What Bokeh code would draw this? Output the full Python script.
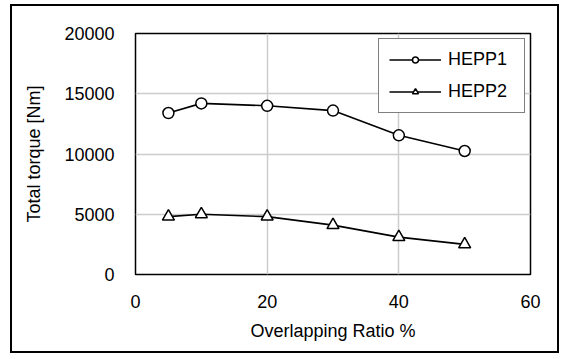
from bokeh.plotting import figure
from bokeh.models import Legend, LegendItem, FixedTicker, Range1d
from bokeh.embed import file_html
from bokeh.resources import INLINE

# Overlapping ratio (%) and total torque (Nm) for the two designs
ratio = [5, 10, 20, 30, 40, 50]
hepp1_torque = [13400, 14200, 14000, 13600, 11550, 10250]
hepp2_torque = [4800, 5000, 4800, 4100, 3100, 2500]

x_ticks = [0, 20, 40, 60]
y_ticks = [0, 5000, 10000, 15000, 20000]

FONT = "Liberation Sans"

p = figure(
    width=549, height=349,
    output_backend="svg", toolbar_location=None,
    x_range=Range1d(0, 60), y_range=Range1d(0, 20000),
    min_border_left=123, min_border_right=31,
    min_border_top=27, min_border_bottom=81,
    background_fill_color="white", border_fill_color="white",
    outline_line_color="black", outline_line_width=1.5,
    styles={"border": "2px solid black", "margin-left": "10px", "margin-top": "4px"},
)

# axes
for ax in (p.xaxis[0], p.yaxis[0]):
    ax.axis_line_color = None
    ax.major_tick_line_color = None
    ax.minor_tick_line_color = None
    ax.major_label_text_font = FONT
    ax.major_label_text_font_size = "18px"
    ax.major_label_text_color = "black"
    ax.axis_label_text_font = FONT
    ax.axis_label_text_font_size = "18px"
    ax.axis_label_text_font_style = "normal"
    ax.axis_label_text_color = "black"

p.xaxis.ticker = FixedTicker(ticks=x_ticks)
p.yaxis.ticker = FixedTicker(ticks=y_ticks)
p.xaxis.axis_label = "Overlapping Ratio %"
p.yaxis.axis_label = "Total torque [Nm]"
p.xaxis.major_label_standoff = 14
p.xaxis.axis_label_standoff = 10
p.yaxis.major_label_standoff = 15
p.yaxis.axis_label_standoff = 17

p.xgrid.ticker = FixedTicker(ticks=[20, 40])
p.ygrid.ticker = FixedTicker(ticks=[5000, 10000, 15000])
p.grid.grid_line_color = "#cccccc"
p.grid.grid_line_width = 1.5

# series lines
l1 = p.line(ratio, hepp1_torque, line_color="black", line_width=1.6)
l2 = p.line(ratio, hepp2_torque, line_color="black", line_width=1.6)

# markers
m1 = p.scatter(ratio, hepp1_torque, marker="circle", size=11,
               fill_color="white", line_color="black", line_width=1.5)
m2 = p.scatter(ratio, hepp2_torque, marker="triangle", size=12,
               fill_color="white", line_color="black", line_width=1.5)

# a short glyph box keeps the legend key markers small
legend = Legend(
    items=[LegendItem(label="HEPP1", renderers=[l1, m1]),
           LegendItem(label="HEPP2", renderers=[l2, m2])],
    location="top_right", margin=5, padding=10, spacing=11,
    glyph_width=52, glyph_height=15, label_standoff=7, label_width=66,
    label_text_font=FONT, label_text_font_size="18px", label_text_color="black",
    border_line_color="black", border_line_width=1.5,
    background_fill_color="white", background_fill_alpha=1.0,
)
p.add_layout(legend, "center")

open("out.html", "w").write(file_html(p, INLINE))
